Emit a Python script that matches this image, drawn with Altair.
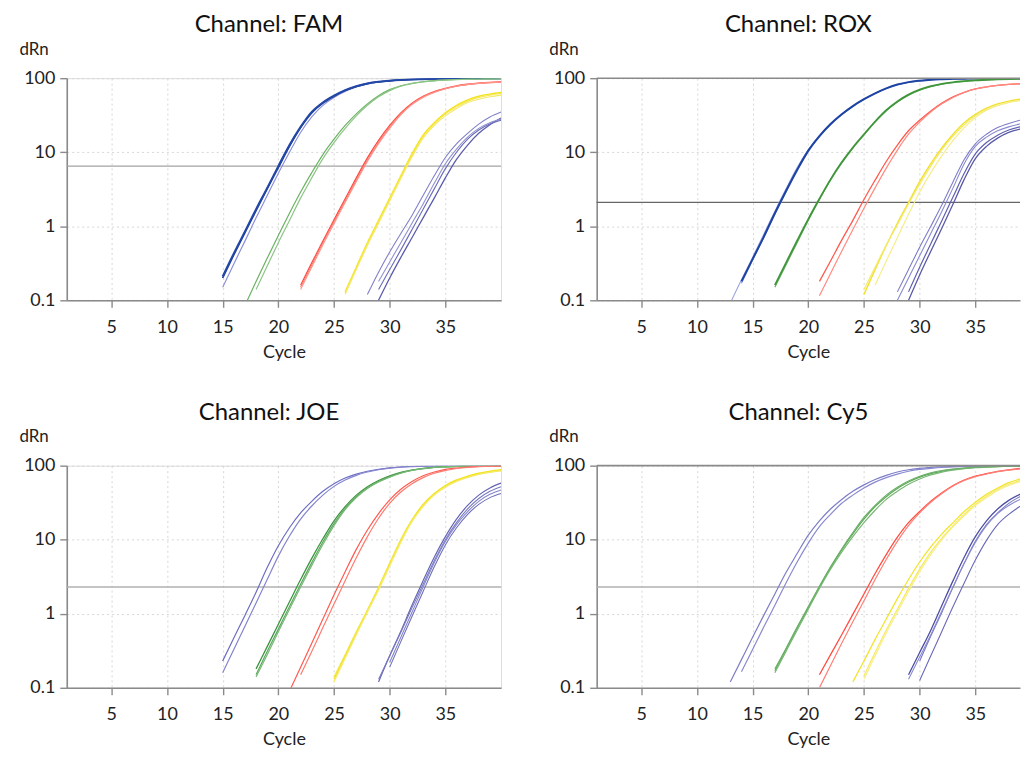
import altair as alt
import pandas as pd

PANELS = ["FAM", "ROX", "JOE", "Cy5"]
X_TICKS = [5, 10, 15, 20, 25, 30, 35]
Y_TICKS = [0.1, 1, 10, 100]
THRESHOLDS = {"FAM": 6.5, "ROX": 2.1, "JOE": 2.3, "Cy5": 2.3}

# ---------------- FAM ----------------
FAM_BLUE_START = [15, 15, 15]
FAM_BLUE = [
    [0.15, 0.31, 0.63, 1.3, 2.6, 5.2, 10, 18.5, 30, 43, 55, 66, 76, 84, 89, 92, 94.5, 96, 97, 98, 98.5, 99, 99, 99.5, 99.5, 99.5],
    [0.2, 0.41, 0.82, 1.62, 3.2, 6.2, 12, 21.5, 34, 46, 57, 68, 77, 84.5, 89, 92, 94.5, 96, 97, 98, 98.5, 99, 99, 99.5, 99.5, 99.5],
    [0.21, 0.43, 0.85, 1.7, 3.3, 6.5, 12.5, 22, 35, 47, 58, 69, 78, 85, 89.5, 92.5, 94.5, 96, 97, 98, 98.5, 99, 99, 99.5, 99.5, 99.5],
]
FAM_GREEN_START = [17, 18]
FAM_GREEN = [
    [0.085, 0.18, 0.37, 0.75, 1.5, 2.9, 5.3, 9.3, 15, 23, 33, 45, 58, 70, 79, 85, 89.5, 92.5, 94.5, 96, 97, 97.5, 98, 98.5],
    [0.14, 0.29, 0.6, 1.2, 2.4, 4.5, 8.2, 13.5, 21, 31, 43, 56, 68, 78, 84.5, 89, 92, 94, 95.5, 96.5, 97.5, 98, 98.5],
]
FAM_RED_START = [22, 22, 22]
FAM_RED = [
    [0.16, 0.32, 0.63, 1.22, 2.35, 4.5, 8.4, 14.5, 23, 34, 46, 57, 66, 73, 79, 83, 86, 88, 89],
    [0.15, 0.3, 0.6, 1.15, 2.2, 4.2, 7.8, 13.5, 22, 33, 45, 56, 65, 72, 78, 82, 85, 87, 88.5],
    [0.14, 0.28, 0.56, 1.08, 2.1, 4.0, 7.5, 13, 21, 32, 44, 55, 64, 72, 78, 82, 85, 87, 88],
]
FAM_YELLOW_START = [26, 26, 26]
FAM_YELLOW = [
    [0.13, 0.28, 0.6, 1.2, 2.4, 4.8, 9.5, 17, 25, 34, 43, 51, 57, 61, 64],
    [0.125, 0.27, 0.57, 1.15, 2.3, 4.6, 9.0, 16, 24, 33, 41, 49, 55, 59, 62],
    [0.12, 0.26, 0.55, 1.1, 2.2, 4.4, 8.6, 15.5, 23, 31, 39, 47, 52, 56, 59],
]
FAM_PURPLE_START = [28, 29, 29, 29]
FAM_PURPLE = [
    [0.12, 0.24, 0.45, 0.8, 1.4, 2.6, 4.8, 8.5, 13, 18, 24, 30, 35],
    [0.1, 0.2, 0.38, 0.7, 1.3, 2.4, 4.5, 8, 12.5, 18, 23.5, 29],
    [0.18, 0.33, 0.6, 1.1, 2.0, 3.8, 7, 11, 16, 21, 25, 28],
    [0.14, 0.26, 0.48, 0.9, 1.7, 3.2, 6, 10, 15, 20, 24, 27],
]

# ---------------- ROX ----------------
ROX_BLUE_START = [13, 14, 14]
ROX_BLUE = [
    [0.092, 0.19, 0.38, 0.78, 1.6, 3.2, 6.2, 10.8, 16.8, 24, 32.5, 42, 52, 62.5, 73, 82, 88.5, 92.5, 95.5, 97, 98, 98.5, 99, 99, 99.5, 99.5, 99.5, 99.5],
    [0.17, 0.35, 0.7, 1.45, 2.9, 5.6, 10.2, 16.2, 23.5, 32, 41.5, 51.5, 62, 72.5, 81.5, 88, 92, 95, 97, 98, 98.5, 99, 99, 99.5, 99.5, 99.5, 99.5],
    [0.18, 0.36, 0.72, 1.5, 3.0, 5.8, 10.5, 16.5, 24, 32.5, 42, 52, 62.5, 73, 82, 88.5, 92.5, 95.5, 97, 98, 98.5, 99, 99, 99.5, 99.5, 99.5, 99.5],
]
ROX_GREEN_START = [17, 17]
ROX_GREEN = [
    [0.15, 0.3, 0.6, 1.2, 2.3, 4.2, 7.1, 11.3, 17, 25.5, 36, 47.5, 59, 69, 77, 83, 87.5, 90.5, 93, 95, 96.5, 97.5, 98, 98.5],
    [0.16, 0.32, 0.64, 1.25, 2.35, 4.3, 7.3, 11.6, 17.5, 26, 37, 48.5, 60, 70, 78, 84, 88, 91, 93.5, 95, 96.5, 97.5, 98, 98.5],
]
ROX_RED_START = [21, 21]
ROX_RED = [
    [0.18, 0.34, 0.65, 1.2, 2.3, 4.2, 7.5, 12.5, 19.5, 27, 36, 46, 56, 64.5, 71.5, 76.5, 80, 82.5, 84, 85],
    [0.115, 0.23, 0.46, 0.9, 1.75, 3.3, 6.1, 10.7, 17.5, 25.5, 35, 45, 55, 64, 71.5, 76.5, 80, 82.5, 84, 85],
]
ROX_YELLOW_START = [25, 25, 26]
ROX_YELLOW = [
    [0.12, 0.26, 0.55, 1.1, 2.1, 4.0, 7.0, 11.5, 17.5, 25, 32.5, 39.5, 45, 49, 52, 54],
    [0.14, 0.28, 0.56, 1.05, 2.0, 3.7, 6.5, 10.8, 16.5, 23.5, 31, 37.5, 43, 47, 50, 52],
    [0.16, 0.34, 0.7, 1.45, 2.9, 5.3, 9.0, 14.5, 21.5, 29.5, 37, 43, 47, 50, 52],
]
ROX_PURPLE_START = [28, 28, 29, 29]
ROX_PURPLE = [
    [0.13, 0.26, 0.52, 1.0, 1.95, 4.0, 8.0, 13, 17.5, 21.5, 24.5, 27, 28.5],
    [0.1, 0.2, 0.4, 0.8, 1.6, 3.3, 7.0, 12, 16, 19.5, 22, 24, 25],
    [0.13, 0.28, 0.58, 1.2, 2.5, 5.2, 9.5, 13.5, 17, 20, 22, 23],
    [0.1, 0.22, 0.46, 0.95, 2.0, 4.3, 8.2, 12, 15.5, 18.5, 20.5, 21.5],
]

# ---------------- JOE ----------------
JOE_BLUE_START = [15, 15]
JOE_BLUE = [
    [0.23, 0.47, 0.95, 1.95, 4.2, 8.3, 14.5, 23, 33, 45, 57, 68, 77, 84, 89.5, 93.5, 96, 97.5, 98.5, 99, 99.5, 99.5, 99.5, 99.5, 99.5, 99.5],
    [0.16, 0.33, 0.68, 1.4, 2.9, 6.0, 11.2, 19, 28.5, 40, 52.5, 64, 74, 82, 88, 92.5, 95.5, 97, 98, 99, 99.5, 99.5, 99.5, 99.5, 99.5, 99.5],
]
JOE_GREEN_START = [18, 18, 18]
JOE_GREEN = [
    [0.18, 0.36, 0.72, 1.45, 2.9, 5.6, 10.3, 18, 28, 40, 52, 63, 73, 81, 87, 92, 95, 97, 98, 98.5, 99, 99, 99.5],
    [0.15, 0.31, 0.62, 1.25, 2.5, 4.9, 9.3, 16.5, 26.5, 38, 50, 61, 71, 80, 87, 91, 94.5, 96.5, 98, 98.5, 99, 99, 99.5],
    [0.14, 0.28, 0.57, 1.15, 2.3, 4.5, 8.6, 15.5, 25.5, 37, 49, 60, 70, 79, 86, 91, 94.5, 96.5, 98, 98.5, 99, 99, 99.5],
]
JOE_RED_START = [21, 22]
JOE_RED = [
    [0.09, 0.19, 0.4, 0.85, 1.8, 3.7, 7.4, 13.5, 22.5, 34.5, 48, 61, 73, 82, 89, 93, 96, 97.5, 98.5, 99],
    [0.15, 0.31, 0.65, 1.35, 2.8, 5.7, 11, 19.5, 31, 44, 57, 69, 79, 86, 91.5, 95, 97, 98, 99],
]
JOE_YELLOW_START = [25, 25, 25]
JOE_YELLOW = [
    [0.13, 0.27, 0.55, 1.1, 2.25, 4.8, 10, 18.5, 30, 42, 54, 64, 72, 79, 84, 88],
    [0.14, 0.28, 0.57, 1.12, 2.25, 4.7, 9.7, 18, 29, 41, 52, 62, 70, 77, 82, 86],
    [0.12, 0.25, 0.52, 1.05, 2.1, 4.4, 9.2, 17.5, 28, 40, 51, 61, 69, 76, 81, 85],
]
JOE_PURPLE_START = [29, 29, 30, 30]
JOE_PURPLE = [
    [0.12, 0.27, 0.58, 1.3, 2.8, 5.8, 11, 19, 29, 40, 50, 58],
    [0.13, 0.27, 0.56, 1.2, 2.5, 5.2, 10, 17, 26, 36, 45, 52],
    [0.22, 0.48, 1.05, 2.3, 4.9, 9.5, 16, 24, 33, 41, 47],
    [0.19, 0.42, 0.92, 2.0, 4.3, 8.5, 14.5, 22, 30, 37, 42],
]

# ---------------- Cy5 ----------------
CY5_BLUE_START = [13, 14]
CY5_BLUE = [
    [0.12, 0.24, 0.48, 0.95, 1.85, 3.6, 6.5, 11.5, 18, 26, 35, 45, 55, 65, 74, 82, 88, 92, 95, 96.5, 97.5, 98, 98.5, 99, 99, 99, 99.5, 99.5],
    [0.165, 0.33, 0.66, 1.3, 2.6, 5.0, 9.0, 15, 22, 31, 40, 50, 60, 69, 77, 84, 89, 92, 94.5, 96, 97, 98, 98.5, 99, 99, 99, 99.5],
]
CY5_GREEN_START = [17, 17, 17]
CY5_GREEN = [
    [0.17, 0.33, 0.64, 1.2, 2.3, 4.2, 7.3, 12, 19, 28, 38, 49, 60, 70, 78, 84, 89, 92, 94.5, 96, 97, 98, 98.5, 99],
    [0.16, 0.31, 0.6, 1.15, 2.2, 4.0, 6.8, 11, 17, 25, 35, 45, 56, 66, 75, 82, 87, 91, 94, 95.5, 97, 97.5, 98, 98.5],
    [0.18, 0.34, 0.66, 1.25, 2.35, 4.3, 7.5, 12.5, 20, 29, 40, 51, 62, 72, 80, 86, 90, 93, 95, 96.5, 97.5, 98, 98.5, 99],
]
CY5_RED_START = [21, 21]
CY5_RED = [
    [0.15, 0.28, 0.52, 0.98, 1.85, 3.5, 6.3, 10.8, 17, 24, 33, 43, 54, 64, 72, 78, 84, 88, 91.5, 94],
    [0.1, 0.2, 0.4, 0.78, 1.5, 2.9, 5.4, 9.5, 15.5, 23, 32, 42, 53, 63, 71, 77, 83, 87, 90.5, 93],
]
CY5_YELLOW_START = [24, 25, 25]
CY5_YELLOW = [
    [0.12, 0.23, 0.45, 0.85, 1.6, 2.9, 5.0, 8.0, 12, 17, 24, 32, 41, 50, 59, 66, 72],
    [0.145, 0.3, 0.6, 1.15, 2.2, 4.0, 6.8, 10.5, 15.5, 22, 30, 39, 48, 56, 63, 69],
    [0.13, 0.27, 0.55, 1.05, 2.0, 3.7, 6.3, 10, 15, 21, 29, 37, 46, 54, 61, 67],
]
CY5_PURPLE_START = [29, 30, 29, 30]
CY5_PURPLE = [
    [0.15, 0.3, 0.6, 1.3, 2.8, 5.8, 11, 18, 26, 34, 41, 47],
    [0.23, 0.5, 1.05, 2.3, 4.8, 9.5, 16, 23, 31, 38, 44],
    [0.13, 0.26, 0.52, 1.1, 2.3, 4.8, 9.2, 15.5, 22.5, 29, 35, 40],
    [0.125, 0.27, 0.58, 1.25, 2.6, 5.3, 9.8, 16, 22, 28, 33],
]

SERIES = {
    "FAM": [("blue", FAM_BLUE_START, FAM_BLUE), ("green", FAM_GREEN_START, FAM_GREEN),
            ("red", FAM_RED_START, FAM_RED), ("yellow", FAM_YELLOW_START, FAM_YELLOW),
            ("purple", FAM_PURPLE_START, FAM_PURPLE)],
    "ROX": [("blue", ROX_BLUE_START, ROX_BLUE), ("green", ROX_GREEN_START, ROX_GREEN),
            ("red", ROX_RED_START, ROX_RED), ("yellow", ROX_YELLOW_START, ROX_YELLOW),
            ("purple", ROX_PURPLE_START, ROX_PURPLE)],
    "JOE": [("blue", JOE_BLUE_START, JOE_BLUE), ("green", JOE_GREEN_START, JOE_GREEN),
            ("red", JOE_RED_START, JOE_RED), ("yellow", JOE_YELLOW_START, JOE_YELLOW),
            ("purple", JOE_PURPLE_START, JOE_PURPLE)],
    "Cy5": [("blue", CY5_BLUE_START, CY5_BLUE), ("green", CY5_GREEN_START, CY5_GREEN),
            ("red", CY5_RED_START, CY5_RED), ("yellow", CY5_YELLOW_START, CY5_YELLOW),
            ("purple", CY5_PURPLE_START, CY5_PURPLE)],
}

# ---------------- styles ----------------
STYLE = {
    ("FAM", "blue"): (["#8d90d8", "#1c3f9c", "#2347a6"], [1.2, 1.6, 2.0]),
    ("FAM", "green"): (["#6bb262", "#8cc585"], [1.2, 1.2]),
    ("FAM", "red"): (["#ff4b3e", "#ff7a70", "#ff958d"], [1.3, 1.1, 1.1]),
    ("FAM", "yellow"): (["#f3e21c", "#f6e84a", "#f5e96a"], [1.4, 1.1, 1.1]),
    ("FAM", "purple"): (["#8080c8", "#5c5cae", "#9090d2", "#6a6ab8"], [1.1, 1.3, 1.1, 1.1]),
    ("ROX", "blue"): (["#a0a3e0", "#8d90d8", "#1c44a3"], [1.1, 1.2, 2.0]),
    ("ROX", "green"): (["#6db367", "#3f963a"], [1.2, 1.8]),
    ("ROX", "red"): (["#ff5a4e", "#ff8a80"], [1.3, 1.2]),
    ("ROX", "yellow"): (["#f0e030", "#f4ea6a", "#f6ee8a"], [1.4, 1.2, 1.2]),
    ("ROX", "purple"): (["#7d7dc8", "#8a8ad0", "#6060b0", "#5a5aa8"], [1.1, 1.1, 1.2, 1.3]),
    ("JOE", "blue"): (["#6d6dc4", "#8484cf"], [1.2, 1.2]),
    ("JOE", "green"): (["#3e9640", "#5aa85a", "#78b878"], [1.3, 1.2, 1.2]),
    ("JOE", "red"): (["#ff5a4e", "#ff7a70"], [1.2, 1.2]),
    ("JOE", "yellow"): (["#f2e21e", "#f4e640", "#f6eb6a"], [1.4, 1.2, 1.2]),
    ("JOE", "purple"): (["#6565b5", "#7a7ac2", "#8686cc", "#7070bb"], [1.2, 1.1, 1.1, 1.1]),
    ("Cy5", "blue"): (["#7d7dc8", "#8989d0"], [1.2, 1.2]),
    ("Cy5", "green"): (["#5fa85a", "#78b873", "#6ab067"], [1.2, 1.2, 1.2]),
    ("Cy5", "red"): (["#ff4e42", "#ff8078"], [1.3, 1.2]),
    ("Cy5", "yellow"): (["#f2e430", "#f5ea5a", "#f7ef8a"], [1.3, 1.2, 1.2]),
    ("Cy5", "purple"): (["#4f4fa5", "#7777c2", "#8a8ad0", "#6a6ab8"], [1.3, 1.1, 1.1, 1.1]),
}
THR_COLOR = {"FAM": "#a3a3a3", "ROX": "#666666", "JOE": "#b0b0b0", "Cy5": "#b0b0b0"}

FONT = "Lato"
FRAME = "#8a8a8a"
PLOT_H = 223
# left column shows the full cycle range; right column is cut by the page edge
LAYOUT = {
    "FAM": {"width": 436, "xmax": 40.0, "dx": -15, "right": False},
    "ROX": {"width": 425, "xmax": 39.01, "dx": -10, "right": True},
    "JOE": {"width": 436, "xmax": 40.0, "dx": -15, "right": False},
    "Cy5": {"width": 425, "xmax": 39.01, "dx": -10, "right": True},
}

rows = []
for panel_name, groups in SERIES.items():
    for group, starts, curves in groups:
        colors, widths = STYLE[(panel_name, group)]
        for i, (start, vals) in enumerate(zip(starts, curves)):
            for k, v in enumerate(vals):
                rows.append({
                    "panel": panel_name,
                    "curve": f"{group}{i}",
                    "cycle": start + k,
                    "dRn": v,
                    "color": colors[i],
                    "w": widths[i],
                })
df = pd.DataFrame(rows)

y_scale = alt.Scale(type="log", domain=[0.1, 100], nice=False)

x_axis = alt.Axis(
    values=X_TICKS, grid=True, gridDash=[2, 3], gridColor="#d6d6d6", gridWidth=1,
    domainColor=FRAME, domainWidth=1.6, tickColor=FRAME, tickWidth=1.4, tickSize=7,
    labelFontSize=18, labelColor="#222222", labelPadding=11, labelFont=FONT,
    titleFontSize=18, titleFontWeight="normal", titleColor="#222222", titlePadding=7,
    titleFont=FONT,
)
y_axis = alt.Axis(
    values=Y_TICKS, format="~g", grid=True, gridDash=[2, 3], gridColor="#d6d6d6", gridWidth=1,
    domainColor=FRAME, domainWidth=1.6, tickColor=FRAME, tickWidth=1.4, tickSize=7,
    labelFontSize=18, labelColor="#222222", labelPadding=5, labelFont=FONT,
    titleFontSize=17, titleFontWeight="normal", titleColor="#222222", titleFont=FONT,
    titleAngle=0, titleAlign="left", titleBaseline="alphabetic", titleX=-48, titleY=-24,
)


def make_panel(name):
    lay = LAYOUT[name]
    x_scale = alt.Scale(domain=[1, lay["xmax"]], nice=False, zero=False)
    sub = df[df["panel"] == name]
    thr_df = pd.DataFrame({"thr": [THRESHOLDS[name]]})
    thr = alt.Chart(thr_df).mark_rule(color=THR_COLOR[name], strokeWidth=1.4).encode(
        y=alt.Y("thr:Q", scale=y_scale, axis=y_axis, title="dRn"),
    )
    lines = alt.Chart(sub).mark_line(interpolate="monotone", clip=True).encode(
        x=alt.X("cycle:Q", scale=x_scale, axis=x_axis, title="Cycle"),
        y=alt.Y("dRn:Q", scale=y_scale, axis=y_axis, title="dRn"),
        detail="curve:N",
        color=alt.Color("color:N", scale=None),
        strokeWidth=alt.StrokeWidth("w:Q", scale=None),
    )
    layers = [thr, lines]
    props = {}
    if lay["right"]:
        top_edge = alt.Chart(pd.DataFrame({"edge": [0]})).mark_rule(
            color=FRAME, strokeWidth=1.6
        ).encode(y=alt.datum(100))
        layers.append(top_edge)
        props["view"] = alt.ViewBackground(stroke="transparent")
    return alt.layer(*layers).properties(
        width=lay["width"], height=PLOT_H,
        title=alt.TitleParams(
            f"Channel: {name}", fontSize=24, fontWeight="normal", font=FONT,
            color="#111111", anchor="middle", dx=lay["dx"], offset=-16, baseline="alphabetic",
        ),
        **props,
    )


top = alt.hconcat(make_panel("FAM"), make_panel("ROX"), spacing=45)
bottom = alt.hconcat(make_panel("JOE"), make_panel("Cy5"), spacing=45)
chart = alt.vconcat(top, bottom, spacing=38).properties(
    padding={"left": 10, "top": 3, "right": 0, "bottom": 0},
).configure_view(stroke=FRAME, strokeWidth=1.6).configure(font=FONT)

chart.save("out.html", embed_options={"renderer": "svg", "actions": False})
